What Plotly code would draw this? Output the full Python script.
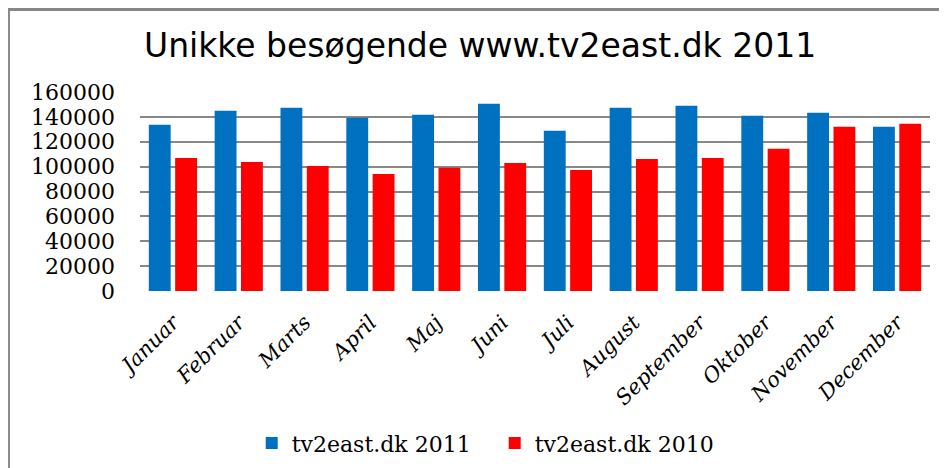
import plotly.graph_objects as go

MONTHS = ["Januar", "Februar", "Marts", "April", "Maj", "Juni", "Juli",
          "August", "September", "Oktober", "November", "December"]
VISITS_2011 = [133600, 144900, 147300, 139300, 141700, 150600, 128800,
               147300, 148900, 140900, 143300, 132000]
VISITS_2010 = [107000, 103800, 100600, 94100, 99000, 103000, 97300,
               106200, 107000, 114300, 132000, 134400]
Y_TICKS = [0, 20000, 40000, 60000, 80000, 100000, 120000, 140000, 160000]

SERIF = "DejaVu Serif"

fig = go.Figure()
fig.add_trace(go.Bar(x=MONTHS, y=VISITS_2011, name="tv2east.dk 2011",
                     marker=dict(color="#0070C0", line=dict(width=0))))
fig.add_trace(go.Bar(x=MONTHS, y=VISITS_2010, name="tv2east.dk 2010",
                     marker=dict(color="#FF0000", line=dict(width=0))))

# the page body has an 8px margin, so margins are shifted by 8px
fig.update_layout(
    width=947,
    height=468,
    paper_bgcolor="white",
    plot_bgcolor="white",
    margin=dict(l=132, r=25, t=84, b=185, autoexpand=False),
    barmode="group",
    bargap=0.2,
    bargroupgap=0.17,
    title=dict(text="Unikke besøgende www.tv2east.dk 2011",
               font=dict(family="DejaVu Sans", size=33, color="black"),
               x=0.4985, xanchor="center", y=0.921, yanchor="middle"),
    showlegend=True,
    legend=dict(orientation="h", x=0.449, xanchor="center", y=-0.765, yanchor="middle",
                font=dict(family=SERIF, size=22, color="black"),
                itemsizing="constant", itemwidth=30,
                entrywidth=198, entrywidthmode="pixels"),
    xaxis=dict(tickangle=-45, tickfont=dict(family=SERIF, size=21, color="black", style="italic"),
               showline=False, showgrid=False, ticks="", automargin=False,
               ticklabelstandoff=14),
    yaxis=dict(range=[0, 160000], tickvals=Y_TICKS, ticktext=[str(v) for v in Y_TICKS],
               tickfont=dict(family=SERIF, size=22, color="black"),
               showgrid=True, gridcolor="#888888", gridwidth=1.5,
               zeroline=False, showline=False, ticks="", ticklabelstandoff=24,
               automargin=False),
    shapes=[
        dict(type="line", xref="paper", yref="paper", x0=-0.17, x1=1.05, y0=1.4196, y1=1.4196,
             line=dict(color="#888888", width=5)),
        dict(type="line", xref="paper", yref="paper", x0=-0.1665, x1=-0.1665, y0=-1.0, y1=1.5,
             line=dict(color="#888888", width=3)),
    ],
)

fig.write_html("out.html")
